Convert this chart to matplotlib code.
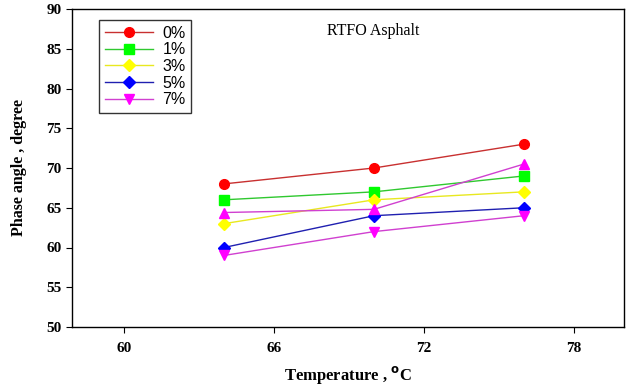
import matplotlib
matplotlib.use('Agg')
import matplotlib.pyplot as plt

temps = [64, 70, 76]
p0 = [68, 70, 73]
p1 = [66, 67, 69]
p3 = [63, 66, 67]
p5 = [60, 64, 65]
p7 = [59, 62, 64]
extra = [64.4, 64.8, 70.5]  # unlabeled magenta series (up triangles)

fig = plt.figure(figsize=(6.34, 3.90), dpi=100)
ax = fig.add_axes([72/634, 1 - 327/390, (624-72)/634, (327-9)/390])

ax.plot(temps, p0, '-o', color='#c83030', mfc='red', mec='red', ms=7, lw=1, label='0%')
ax.plot(temps, p1, '-s', color='#30c830', mfc='#00ff00', mec='#00ff00', ms=7, lw=1, label='1%')
ax.plot(temps, p3, '-D', color='#e8e820', mfc='yellow', mec='yellow', ms=6, lw=1, label='3%')
ax.plot(temps, p5, '-D', color='#2020b0', mfc='blue', mec='blue', ms=6, lw=1, label='5%')
ax.plot(temps, p7, '-v', color='#d040d0', mfc='magenta', mec='magenta', ms=7, lw=1, label='7%')
ax.plot(temps, extra, '-^', color='#d040d0', mfc='magenta', mec='magenta', ms=7, lw=1)

ax.set_xlim(57.92, 80)
ax.set_ylim(50, 90)
ax.set_xticks([60, 66, 72, 78])
ax.set_yticks(range(50, 91, 5))
ax.tick_params(direction='out', length=4, top=False, right=False)
for lbl in ax.get_xticklabels() + ax.get_yticklabels():
    lbl.set_fontfamily('Liberation Serif')
    lbl.set_fontweight('bold')
    lbl.set_fontsize(11)
ax.tick_params(axis='x', pad=7)

ax.set_xlabel('Temperature , $\\mathbf{^{o}}$C', fontfamily='Liberation Serif',
              fontweight='bold', fontsize=12, labelpad=6)
ax.set_ylabel('Phase angle , degree', fontfamily='Liberation Serif',
              fontweight='bold', fontsize=11.5, labelpad=14)
ax.text(0.545, 0.955, 'RTFO Asphalt', transform=ax.transAxes, ha='center', va='top',
        fontfamily='Liberation Serif', fontsize=11.5)

leg = ax.legend(loc='upper left', bbox_to_anchor=(0.035, 0.99), frameon=True, fancybox=False,
                edgecolor='black', prop={'family': 'Liberation Sans', 'size': 11.5},
                handlelength=3.0, labelspacing=0.1, borderpad=0.35, handletextpad=0.6)
leg.get_frame().set_linewidth(1)

for s in ax.spines.values():
    s.set_linewidth(1)

fig.savefig('out.png', dpi=100)
